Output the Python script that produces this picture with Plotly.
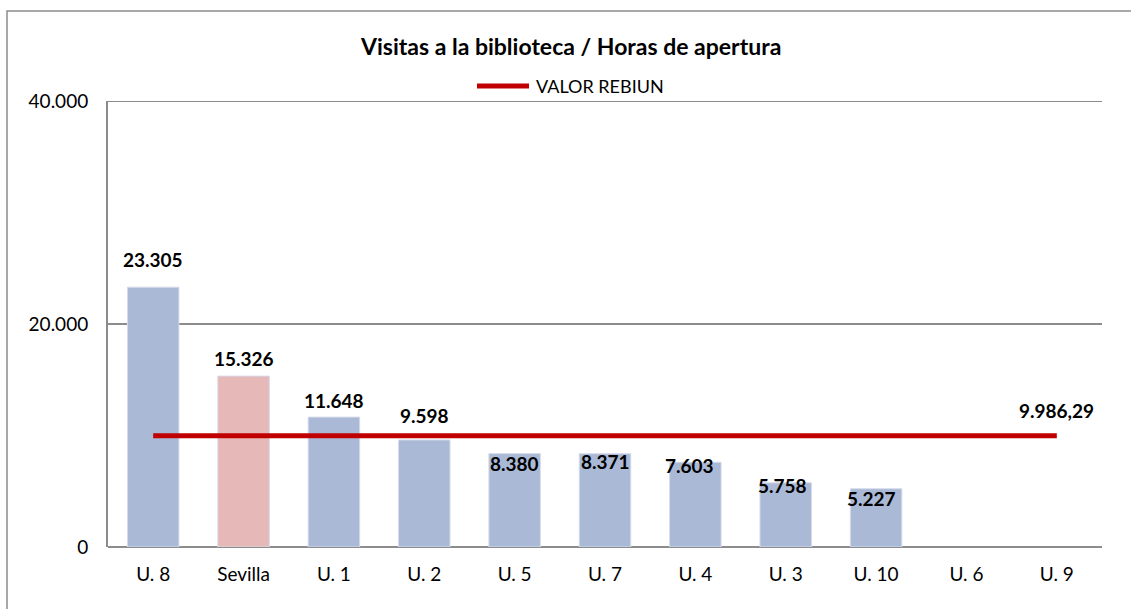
import plotly.graph_objects as go

# Visits per opening hour by library
categories = ["U. 8", "Sevilla", "U. 1", "U. 2", "U. 5", "U. 7", "U. 4", "U. 3", "U. 10", "U. 6", "U. 9"]
visits = [23305, 15326, 11648, 9598, 8380, 8371, 7603, 5758, 5227, None, None]
rebiun_value = 9986.29
rebiun_name = "VALOR REBIUN"
highlight = "Sevilla"
y_max = 40000

# label placement tweaks (pixels) relative to each bar top
label_yshift = [28, 18, 17, 24, -10, -8, -3, -3, -10, 0, 0]
label_xshift = [0, 0, 0, 0, 0, 0, -6, -3, -5, 0, 0]

BLUE = "#AAB9D6"
PINK = "#E6B8B7"
RED = "#C00000"
GRID = "#8C8C8C"
FONT = "Lato, 'Open Sans', sans-serif"

W, H = 1131, 609
ML, MR, MT, MB = 108, 29, 101, 62
PW, PH = W - ML - MR, H - MT - MB


def px_x(x):
    return (x - ML) / PW


def px_y(y):
    return (H - MB - y) / PH


def es_int(v):
    return f"{v:,.0f}".replace(",", ".")


def es_dec(v):
    return f"{v:,.2f}".replace(",", "X").replace(".", ",").replace("X", ".")


bar_colors = [PINK if c == highlight else BLUE for c in categories]

fig = go.Figure()
fig.add_trace(go.Bar(
    x=categories,
    y=visits,
    marker=dict(color=bar_colors, line=dict(color="#D5DCEB", width=1)),
    width=0.57,
    showlegend=False,
    hoverinfo="x+y",
))
fig.add_trace(go.Scatter(
    x=categories,
    y=[rebiun_value] * len(categories),
    mode="lines",
    name=rebiun_name,
    line=dict(color=RED, width=5),
    showlegend=False,
))

annotations = []
for c, v, dy, dx in zip(categories, visits, label_yshift, label_xshift):
    if v is None:
        continue
    annotations.append(dict(
        x=c, y=v, text=f"<b>{es_int(v)}</b>", showarrow=False,
        yanchor="middle", yshift=dy, xshift=dx,
        font=dict(family=FONT, size=19, color="#000000"),
    ))
annotations.append(dict(
    x=categories[-1], y=rebiun_value, text=f"<b>{es_dec(rebiun_value)}</b>",
    showarrow=False, yanchor="middle", yshift=25,
    font=dict(family=FONT, size=19, color="#000000"),
))
# legend entry text
annotations.append(dict(
    xref="paper", yref="paper", x=px_x(534), y=px_y(86),
    xanchor="left", yanchor="middle", showarrow=False,
    text=rebiun_name, font=dict(family=FONT, size=18, color="#000000"),
))

fig.update_layout(
    width=W,
    height=H,
    margin=dict(l=ML, r=MR, t=MT, b=MB, autoexpand=False),
    paper_bgcolor="white",
    plot_bgcolor="white",
    separators=",.",
    showlegend=False,
    font=dict(family=FONT, size=19, color="#000000"),
    title=dict(
        text="<b>Visitas a la biblioteca / Horas de apertura</b>",
        x=0.505, xanchor="center", y=1 - 47 / H, yanchor="middle",
        font=dict(family=FONT, size=23, color="#000000"),
    ),
    bargap=0.43,
    xaxis=dict(
        type="category",
        showgrid=False,
        showline=False,
        ticks="",
        tickfont=dict(family=FONT, size=19),
        ticklabelstandoff=14,
    ),
    yaxis=dict(
        range=[0, y_max],
        tick0=0,
        dtick=20000,
        tickformat=",d",
        showgrid=True,
        gridcolor=GRID,
        gridwidth=2,
        zeroline=True,
        zerolinecolor=GRID,
        zerolinewidth=2,
        showline=True,
        linecolor=GRID,
        linewidth=2,
        ticks="",
        ticklabelstandoff=14,
        tickfont=dict(family=FONT, size=19),
    ),
    annotations=annotations,
    shapes=[
        # outer chart-area frame
        dict(type="rect", xref="paper", yref="paper",
             x0=px_x(7), x1=px_x(1145), y0=px_y(640), y1=px_y(11),
             line=dict(color="#8C8C8C", width=1.5), fillcolor="rgba(0,0,0,0)",
             layer="above"),
        # top gridline at the axis maximum
        dict(type="line", xref="paper", yref="y",
             x0=0, x1=1, y0=y_max, y1=y_max,
             line=dict(color=GRID, width=2), layer="below"),
        # legend swatch
        dict(type="line", xref="paper", yref="paper",
             x0=px_x(477), x1=px_x(529), y0=px_y(86), y1=px_y(86),
             line=dict(color=RED, width=5)),
    ],
)

fig.write_html("out.html")
